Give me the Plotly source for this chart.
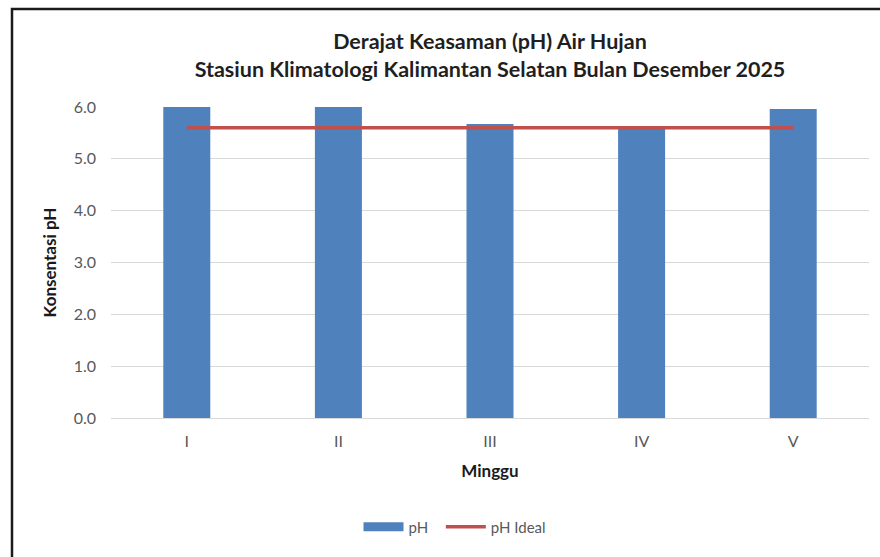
import plotly.graph_objects as go

# Weekly rainwater pH, December 2025
minggu = ["I", "II", "III", "IV", "V"]
ph_values = [6.0, 6.0, 5.67, 5.62, 5.96]
ph_ideal = [5.6, 5.6, 5.6, 5.6, 5.6]
y_ticks = [0, 1, 2, 3, 4, 5, 6]
y_tick_labels = ["0.0", "1.0", "2.0", "3.0", "4.0", "5.0", "6.0"]

FONT = "Lato, Calibri, 'Open Sans', sans-serif"
W, H = 880, 557
ML, MR, MT, MB = 111, 11, 107, 139
pw = W - ML - MR
ph_ = H - MT - MB

BAR_COLOR = "#4F81BD"
LINE_COLOR = "#C0504D"

fig = go.Figure()
fig.add_trace(go.Bar(
    x=minggu, y=ph_values, name="pH", showlegend=False,
    marker=dict(color=BAR_COLOR, line=dict(width=0)),
    width=0.31,
))
# legend key for the bars: a wide flat swatch
fig.add_trace(go.Scatter(
    x=[None], y=[None], name="pH  ", mode="lines",
    line=dict(color=BAR_COLOR, width=9),
))
fig.add_trace(go.Scatter(
    x=minggu, y=ph_ideal, name="pH Ideal", mode="lines",
    line=dict(color=LINE_COLOR, width=3.5),
))

# outer chart frame (px -> paper coordinates)
def px_x(v):
    return (v - ML) / pw

def px_y(v):
    return (H - MB - v) / ph_

fig.add_shape(type="rect", xref="paper", yref="paper",
              x0=px_x(12), x1=px_x(895), y0=px_y(575), y1=px_y(9),
              line=dict(color="#1a1a1a", width=2.5), fillcolor="rgba(0,0,0,0)",
              layer="above")

fig.update_layout(
    width=W, height=H,
    margin=dict(l=ML, r=MR, t=MT, b=MB),
    paper_bgcolor="white", plot_bgcolor="white",
    font=dict(family=FONT, color="#595959", size=15),
    title=dict(
        text="<b>Derajat Keasaman (pH) Air Hujan<br>Stasiun Klimatologi Kalimantan Selatan Bulan Desember 2025</b>",
        x=0.5, xref="paper", xanchor="center", y=1 - 49 / H, yanchor="middle",
        font=dict(family=FONT, size=21.5, color="#1f1f1f"),
    ),
    xaxis=dict(
        title=dict(text="<b>Minggu</b>", font=dict(family=FONT, size=17, color="#1a1a1a"), standoff=15),
        showline=True, linecolor="#D9D9D9", linewidth=1, ticks="", showgrid=False,
        tickfont=dict(size=16, color="#595959"), ticklabelstandoff=9,
    ),
    yaxis=dict(
        title=dict(text="<b>Konsentasi pH</b>", font=dict(family=FONT, size=17, color="#1a1a1a"), standoff=12),
        range=[0, 6], tickvals=y_ticks, ticktext=y_tick_labels,
        showgrid=True, gridcolor="#D9D9D9", gridwidth=1, zeroline=False,
        tickfont=dict(size=16, color="#595959"), ticks="", ticklen=0,
        ticklabelstandoff=14,
    ),
    legend=dict(
        orientation="h", x=px_x(455), xanchor="center", y=px_y(527), yanchor="middle",
        font=dict(size=15, color="#595959"), itemwidth=40,
    ),
    bargap=0.69,
)

fig.write_html("out.html")
